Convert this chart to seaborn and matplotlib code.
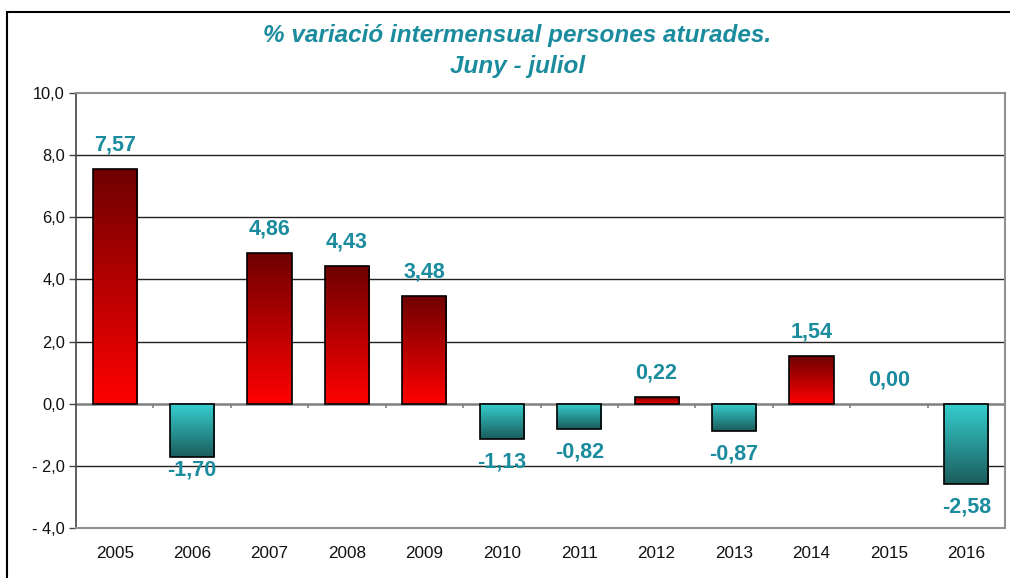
import numpy as np
import matplotlib
matplotlib.use("Agg")
import matplotlib.pyplot as plt
from matplotlib.colors import LinearSegmentedColormap
from matplotlib.patches import Rectangle
import seaborn as sns

# === DANE ===
years = ["2005", "2006", "2007", "2008", "2009", "2010", "2011", "2012", "2013", "2014", "2015", "2016"]
values = [7.57, -1.70, 4.86, 4.43, 3.48, -1.13, -0.82, 0.22, -0.87, 1.54, 0.00, -2.58]
y_ticks = [-4, -2, 0, 2, 4, 6, 8, 10]
title = "% variació intermensual persones aturades.\nJuny - juliol"

TEAL = "#1a8c9e"
PX = 72 / 100  # piksele -> punkty
sns.set_theme(style="white")
plt.rcParams["font.family"] = ["Liberation Sans", "DejaVu Sans"]

fig = plt.figure(figsize=(10.1, 5.78), dpi=100)
ax = fig.add_axes([76 / 1010, 1 - 528 / 578, 929 / 1010, 435 / 578])

sns.barplot(x=years, y=values, color="red", width=0.57, ax=ax, zorder=3)

# gradienty w słupkach
pos_cmap = LinearSegmentedColormap.from_list("pos", ["#ff0000", "#6e0000"])
neg_cmap = LinearSegmentedColormap.from_list("neg", ["#1b5c5c", "#36cfcf"])
grad = np.linspace(0, 1, 256).reshape(-1, 1)
for bar, v in zip(ax.patches, values):
    bar.set_facecolor("none")
    bar.set_edgecolor("black")
    bar.set_linewidth(1.2)
    bar.set_zorder(4)
    if v == 0:
        bar.set_linewidth(0)
        continue
    x0, w = bar.get_x(), bar.get_width()
    y0, y1 = min(0, v), max(0, v)
    img = ax.imshow(grad, extent=[x0, x0 + w, y0, y1], origin="lower",
                    cmap=pos_cmap if v > 0 else neg_cmap, aspect="auto", zorder=3)
    img.set_clip_path(bar)

# etykiety wartości
for i, v in enumerate(values):
    txt = f"{v:.2f}".replace(".", ",")
    if v >= 0:
        off = 24
    else:
        off = -13 if years[i] == "2006" else -23
    ax.annotate(txt, (i, v), xytext=(0, off * PX), textcoords="offset points",
                ha="center", va="center", color=TEAL, fontsize=15.5, fontweight="bold", zorder=6)

ax.set_xlim(-0.5, len(years) - 0.5)
ax.set_ylim(-4, 10)
ax.set_yticks(y_ticks)
ax.set_yticklabels([f"{t:.1f}".replace(".", ",").replace("-", "- ") for t in y_ticks], fontsize=11.8)
ax.tick_params(axis="y", length=5, width=1, color="#444444", direction="out", pad=3, left=True)
ax.tick_params(axis="x", length=0, pad=13, labelsize=12.3)
for lbl in ax.get_xticklabels() + ax.get_yticklabels():
    lbl.set_color("#111111")

# linie siatki
for t in y_ticks[1:-1]:
    if t != 0:
        ax.axhline(t, color="#222222", lw=1, zorder=1)
ax.axhline(0, color="#808080", lw=1.8, zorder=2)
ax.vlines(np.arange(len(years)) + 0.5, -0.13, 0, color="#808080", lw=1.2, zorder=2)

for side in ["top", "right", "bottom"]:
    ax.spines[side].set_color("#909090")
    ax.spines[side].set_linewidth(1.5)
ax.spines["left"].set_color("#444444")
ax.spines["left"].set_linewidth(1.2)
ax.set_xlabel("")
ax.set_ylabel("")

fig.text(0.512, 1 - 51 / 578, title, ha="center", va="center", color=TEAL,
         fontsize=17.5, fontweight="bold", fontstyle="italic", linespacing=1.4)

# ramka zewnętrzna
fig.patches.append(Rectangle((7 / 1010, -0.1), 1.2, 1 - 12 / 578 + 0.1, transform=fig.transFigure,
                             fill=False, edgecolor="black", lw=1.5))

fig.savefig("out.png", dpi=100, facecolor="white")
